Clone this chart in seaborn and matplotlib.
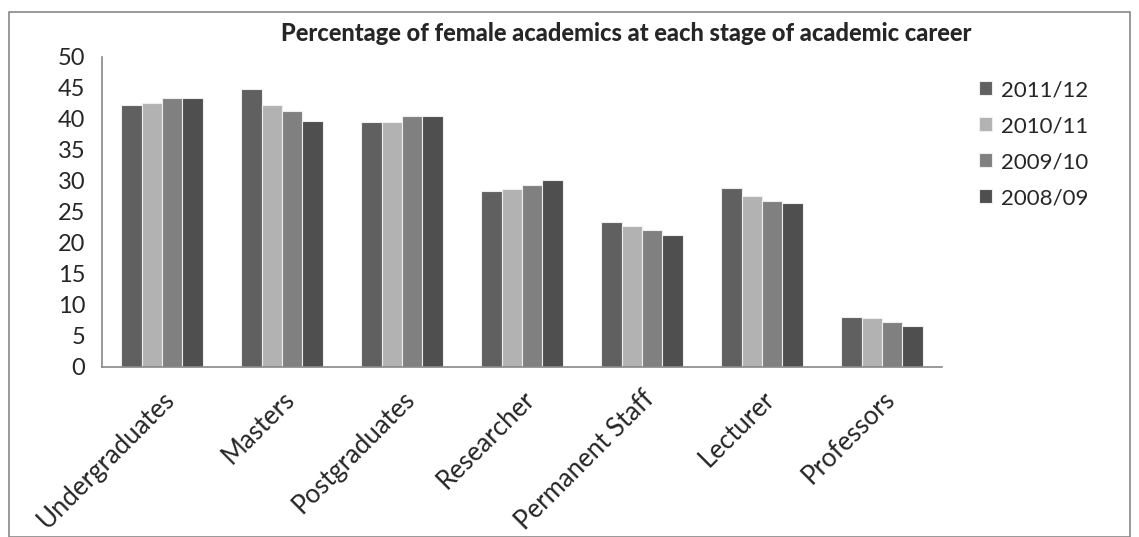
import pandas as pd
import seaborn as sns
import matplotlib.pyplot as plt
from matplotlib.patches import Rectangle

# Data
stages = ["Undergraduates", "Masters", "Postgraduates", "Researcher",
          "Permanent Staff", "Lecturer", "Professors"]
years = ["2011/12", "2010/11", "2009/10", "2008/09"]
pct_2011_12 = [42.3, 44.8, 39.5, 28.3, 23.3, 28.9, 8.0]
pct_2010_11 = [42.6, 42.3, 39.5, 28.7, 22.7, 27.6, 7.8]
pct_2009_10 = [43.4, 41.3, 40.5, 29.3, 22.1, 26.8, 7.3]
pct_2008_09 = [43.3, 39.7, 40.5, 30.1, 21.3, 26.4, 6.5]
colors = ["#606060", "#b2b2b2", "#808080", "#4f4f4f"]

rows = []
for year, vals in zip(years, [pct_2011_12, pct_2010_11, pct_2009_10, pct_2008_09]):
    for stage, v in zip(stages, vals):
        rows.append({"stage": stage, "year": year, "pct": v})
df = pd.DataFrame(rows)

sns.set_style("white")
plt.rcParams['font.family'] = ['Lato', 'DejaVu Sans']

fig = plt.figure(figsize=(11.39, 5.37), dpi=100)
ax = fig.add_axes([0.0896, 0.317, 0.7374, 0.577])

sns.barplot(data=df, x="stage", y="pct", hue="year", order=stages,
            hue_order=years, palette=colors, width=0.68, gap=0,
            edgecolor="#eeeeee", linewidth=0.8, ax=ax)

ax.set_ylim(0, 50)
ax.set_xlim(-0.5, len(stages) - 0.5)
ax.set_yticks(range(0, 51, 5))
ax.set_xlabel("")
ax.set_ylabel("")

for side in ["top", "right"]:
    ax.spines[side].set_visible(False)
for side in ["left", "bottom"]:
    ax.spines[side].set_color("#888888")
    ax.spines[side].set_linewidth(1.2)

# ticks between groups on x, outward ticks on y
ax.set_xticks([i - 0.5 for i in range(len(stages) + 1)], minor=True)
ax.tick_params(axis="x", which="minor", length=9, width=1.2, color="#888888", direction="out")
ax.tick_params(axis="x", which="major", length=0, pad=14)
ax.tick_params(axis="y", length=7, width=1.2, color="#888888", direction="out", labelsize=17, pad=5)
plt.setp(ax.get_xticklabels(), rotation=45, ha="right", rotation_mode="anchor", fontsize=18.5)

fig.text(0.55, 0.937, "Percentage of female academics at each stage of academic career",
         ha="center", va="center", fontsize=17, fontweight=900)

leg = ax.legend(loc="upper left", bbox_to_anchor=(0.842, 0.888),
                bbox_transform=fig.transFigure, frameon=False, fontsize=16,
                handlelength=0.6, handleheight=0.6, handletextpad=0.4,
                labelspacing=0.72)

# outer chart border
fig.patches.append(Rectangle((0.008, 0.0), 0.984, 0.978, transform=fig.transFigure,
                             fill=False, edgecolor="#888888", linewidth=1.2))

fig.savefig("out.png", dpi=100)
